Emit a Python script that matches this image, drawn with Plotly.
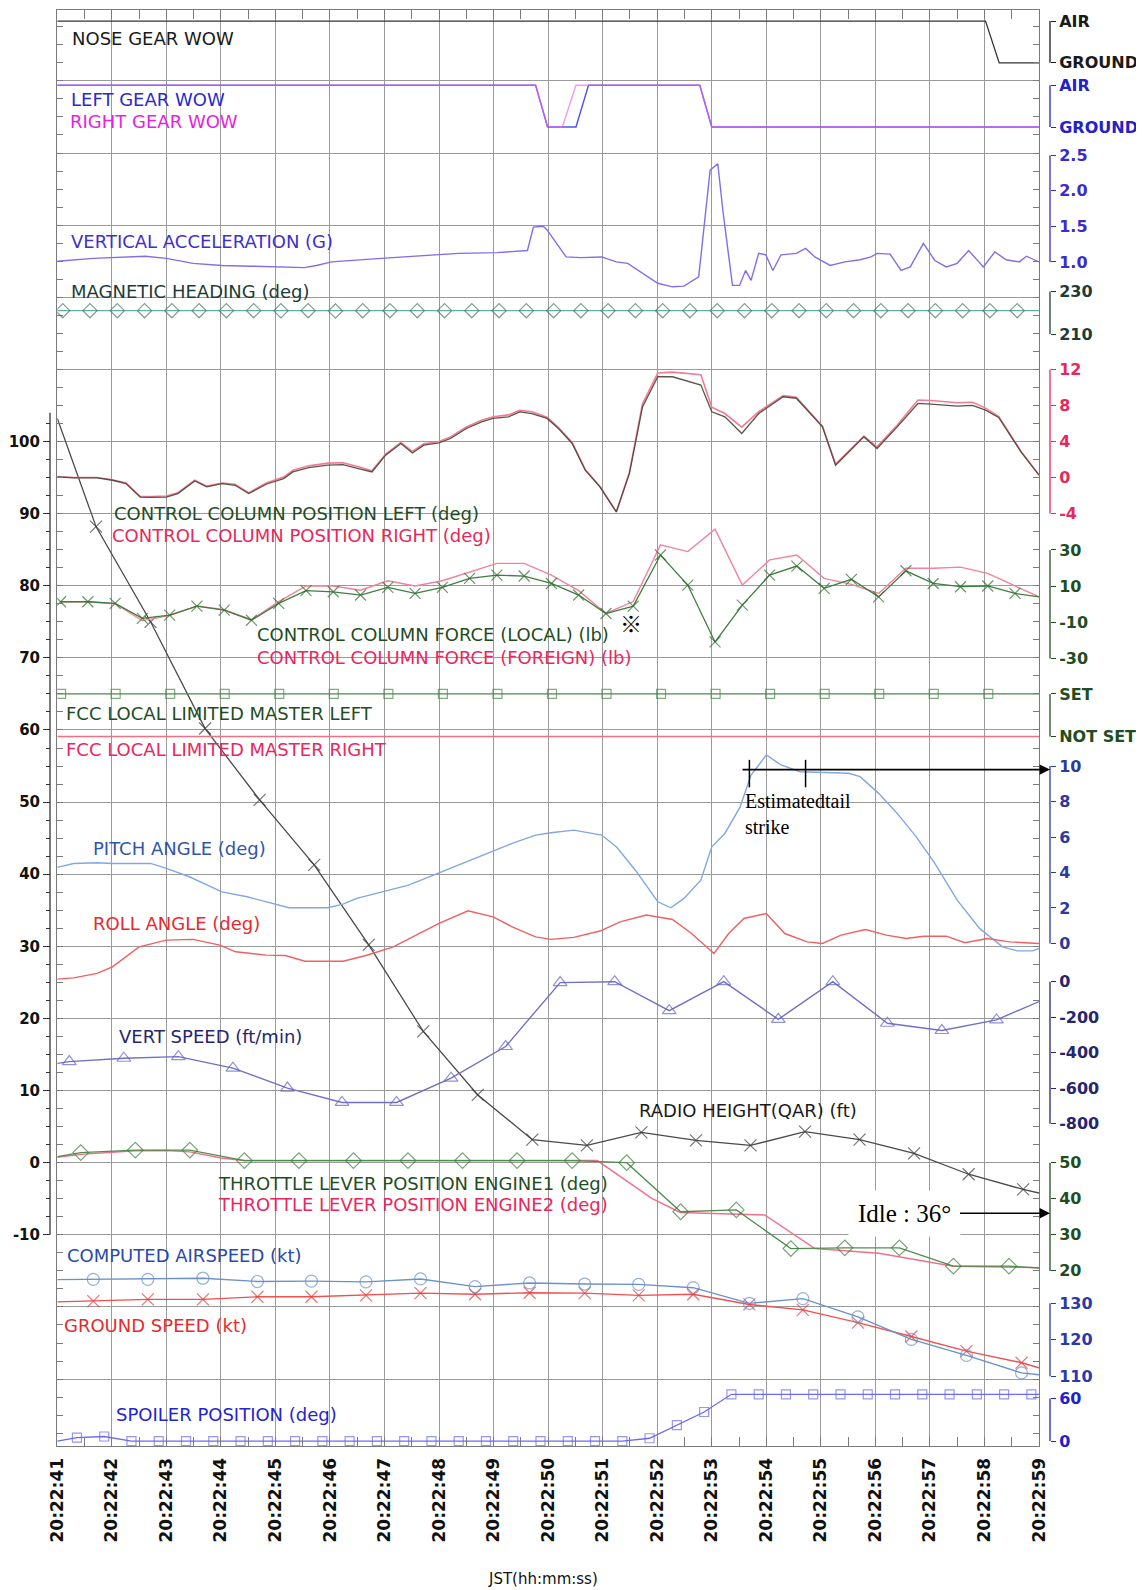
import plotly.graph_objects as go

# ---------------- time axis (seconds after 20:22:41) ----------------
tick_seconds = list(range(0, 19))
tick_labels = ["20:22:41", "20:22:42", "20:22:43", "20:22:44", "20:22:45", "20:22:46",
               "20:22:47", "20:22:48", "20:22:49", "20:22:50", "20:22:51", "20:22:52",
               "20:22:53", "20:22:54", "20:22:55", "20:22:56", "20:22:57", "20:22:58",
               "20:22:59"]
left_ticks = [-10, 0, 10, 20, 30, 40, 50, 60, 70, 80, 90, 100]
left_tick_text = ["-10", "0", "10", "20", "30", "40", "50", "60", "70", "80", "90", "100"]

# ---------------- data ----------------
nose_t = [0, 17.02, 17.27, 18]
nose_v = [1, 1, 0, 0]

lgear_t = [0, 8.77, 8.99, 9.51, 9.74, 11.78, 12.0, 18]
lgear_v = [1, 1, 0, 0, 1, 1, 0, 0]
rgear_t = [0, 8.77, 8.99, 9.26, 9.51, 11.78, 12.0, 18]
rgear_v = [1, 1, 0, 0, 1, 1, 0, 0]

vacc_t = [0, 0.66, 1.61, 2.0, 2.49, 3.02, 3.55, 4.08, 4.53, 4.75, 5.03, 5.94, 6.65, 7.36,
          8.06, 8.62, 8.73, 8.91, 8.98, 9.33, 9.6, 9.98, 10.25, 10.46, 11.01, 11.28, 11.49,
          11.76, 11.97, 12.11, 12.21, 12.38, 12.51, 12.62, 12.72, 12.86, 12.99, 13.12, 13.27,
          13.55, 13.72, 13.89, 14.17, 14.44, 14.72, 14.92, 15.03, 15.27, 15.47, 15.64, 15.88,
          16.09, 16.3, 16.5, 16.71, 16.98, 17.19, 17.4, 17.64, 17.77, 18.0]
vacc_g = [1.01, 1.05, 1.08, 1.05, 0.98, 0.95, 0.94, 0.93, 0.92, 0.95, 1.0, 1.05, 1.08, 1.12,
          1.13, 1.16, 1.49, 1.50, 1.45, 1.07, 1.06, 1.07, 1.0, 0.98, 0.70, 0.65, 0.66,
          0.79, 2.29, 2.38, 1.68, 0.67, 0.67, 0.88, 0.74, 1.12, 1.10, 0.88, 1.10,
          1.12, 1.19, 1.07, 0.95, 1.0, 1.03, 1.07, 1.12, 1.11, 0.88, 0.93, 1.26,
          1.02, 0.93, 0.98, 1.16, 0.93, 1.14, 1.03, 1.0, 1.08, 1.0]

hdg_t = [0, 0.1, 0.6, 1.1, 1.6, 2.1, 2.6, 3.1, 3.6, 4.1, 4.6, 5.1, 5.6, 6.1, 6.6, 7.1, 7.6,
         8.1, 8.6, 9.1, 9.6, 10.1, 10.6, 11.1, 11.6, 12.1, 12.6, 13.1, 13.6, 14.1, 14.6,
         15.1, 15.6, 16.1, 16.6, 17.1, 17.6, 18.0]
hdg_v = [221.0, 221.0, 221.0, 221.0, 221.0, 221.0, 221.0, 221.0, 221.0, 220.9, 221.0, 220.8,
         221.0, 221.0, 221.0, 221.0, 221.0, 221.0, 221.0, 221.0, 221.0, 221.0, 221.0, 221.0,
         221.0, 221.0, 221.0, 221.0, 221.0, 221.0, 221.0, 221.0, 221.0, 221.0, 221.0, 221.0,
         221.0, 221.0]

ccpos_t = [0, 0.30, 0.73, 1.01, 1.26, 1.52, 1.71, 2.0, 2.21, 2.52, 2.74, 3.02, 3.26, 3.51,
           3.83, 4.15, 4.32, 4.61, 4.96, 5.24, 5.52, 5.77, 6.02, 6.30, 6.51, 6.72, 7.0, 7.21,
           7.50, 7.78, 7.99, 8.27, 8.48, 8.70, 8.98, 9.19, 9.44, 9.68, 9.95, 10.25, 10.49,
           10.73, 11.01, 11.28, 11.8, 12.0, 12.24, 12.55, 12.86, 13.31, 13.55, 14.03, 14.27,
           14.79, 15.03, 15.4, 15.78, 16.02, 16.5, 16.78, 17.02, 17.26, 17.67, 18.0]
ccpos_left = [0.07, -0.04, -0.04, -0.3, -0.67, -2.16, -2.2, -2.16, -1.78, -0.38, -1.04, -0.67,
              -0.86, -1.78, -0.74, -0.11, 0.62, 1.1, 1.37, 1.44, 1.0, 0.62, 2.48, 3.78, 2.73,
              3.59, 3.84, 4.33, 5.44, 6.18, 6.56, 6.73, 7.29, 7.1, 6.56, 5.44, 3.78, 0.81,
              -1.04, -3.82, 0.44, 7.84, 11.18, 11.18, 10.26, 7.29, 6.73, 4.89, 7.1, 8.96, 8.8,
              5.62, 1.37, 4.51, 3.22, 5.62, 8.22, 8.15, 7.92, 8.0, 7.48, 6.67, 2.85, 0.26]
ccpos_right = [0.1, 0.0, 0.0, -0.25, -0.6, -2.1, -2.1, -2.05, -1.7, -0.3, -0.95, -0.6,
               -0.75, -1.7, -0.6, 0.05, 0.8, 1.3, 1.6, 1.65, 1.2, 0.75, 2.6, 3.9, 2.9,
               3.75, 4.0, 4.5, 5.6, 6.35, 6.75, 6.95, 7.45, 7.3, 6.7, 5.55, 3.9, 0.9,
               -1.0, -3.8, 0.6, 8.2, 11.6, 11.7, 11.4, 7.8, 7.1, 5.6, 7.3, 9.1, 8.9,
               5.7, 1.5, 4.6, 3.4, 5.8, 8.6, 8.55, 8.3, 8.35, 7.7, 6.8, 2.9, 0.3]

ccf_t = [0.06, 0.56, 1.06, 1.56, 2.06, 2.56, 3.06, 3.56, 4.06, 4.56, 5.06, 5.56, 6.06, 6.56,
         7.06, 7.56, 8.06, 8.56, 9.06, 9.56, 10.06, 10.56, 11.06, 11.56, 12.06, 12.56, 13.06,
         13.56, 14.06, 14.56, 15.06, 15.56, 16.06, 16.56, 17.06, 17.56, 18.0]
ccf_local = [1.4, 1.4, 0.5, -7.8, -6.0, -1.0, -3.2, -8.8, 0.5, 7.5, 6.9, 5.1, 9.3, 6.0, 9.3,
             14.3, 16.1, 15.6, 11.5, 5.1, -5.1, -1.0, 27.2, 10.6, -20.8, -0.5, 16.1, 21.1,
             8.8, 13.8, 4.1, 18.5, 11.5, 9.7, 10.1, 6.0, 4.1]
ccf_foreign = [1.4, 1.4, 0.3, -9.0, -6.3, -1.0, -3.0, -8.5, 1.5, 10.1, 10.1, 7.8, 13.0, 10.1,
               13.0, 18.0, 22.6, 22.6, 16.1, 7.5, -5.1, 1.5, 32.8, 29.1, 41.5, 10.6, 24.5,
               27.2, 14.3, 11.0, 6.0, 19.9, 19.9, 20.5, 17.1, 10.1, 4.1]

fccl_t = [0, 0.07, 1.07, 2.07, 3.07, 4.07, 5.07, 6.07, 7.07, 8.07, 9.07, 10.07, 11.07, 12.07,
          13.07, 14.07, 15.07, 16.07, 17.07, 18.0]
fccl_v = [1, 1, 1, 1, 1, 1, 1, 1, 1, 1, 1, 1, 1, 1, 1, 1, 1, 1, 1, 1]
fccr_t = [0, 18.0]
fccr_v = [0, 0]

pitch_t = [0, 0.30, 0.73, 1.01, 1.71, 2.0, 2.42, 3.02, 3.48, 3.83, 4.25, 4.96, 5.24, 5.49,
           5.95, 6.44, 7.0, 7.5, 7.99, 8.34, 8.77, 9.05, 9.47, 9.98, 10.25, 10.6, 11.01,
           11.25, 11.49, 11.8, 12.0, 12.24, 12.52, 12.72, 13.0, 13.27, 13.62, 14.03, 14.51,
           14.72, 15.06, 15.4, 15.75, 16.09, 16.5, 16.91, 17.33, 17.6, 17.88, 18.0]
pitch_v = [4.29, 4.51, 4.55, 4.51, 4.51, 4.23, 3.76, 2.91, 2.63, 2.35, 2.01, 2.01, 2.22, 2.54,
           2.91, 3.29, 3.98, 4.6, 5.22, 5.64, 6.11, 6.24, 6.39, 6.11, 5.45, 4.13, 2.35,
           2.01, 2.54, 3.57, 5.45, 6.2, 7.7, 9.49, 10.62, 10.06, 9.68, 9.62, 9.59,
           9.4, 8.46, 7.33, 6.01, 4.51, 2.44, 0.85, -0.19, -0.42, -0.42, -0.28]

roll_t = [0, 0.30, 0.73, 1.01, 1.50, 2.0, 2.49, 2.98, 3.27, 3.83, 4.18, 4.54, 5.24, 5.66,
          6.16, 6.65, 7.0, 7.53, 7.99, 8.34, 8.77, 9.05, 9.47, 9.95, 10.32, 10.8, 11.28,
          11.63, 12.04, 12.31, 12.59, 13.0, 13.34, 13.75, 14.03, 14.37, 14.82, 15.2, 15.57,
          15.88, 16.3, 16.64, 17.05, 17.46, 18.0]
roll_v = [-2.01, -1.94, -1.69, -1.32, -0.19, 0.19, 0.23, -0.09, -0.47, -0.66, -0.68, -1.0,
          -1.0, -0.68, -0.19, 0.56, 1.13, 1.84, 1.5, 0.94, 0.37, 0.23, 0.34, 0.7, 1.22,
          1.6, 1.35, 0.56, -0.56, 0.56, 1.41, 1.69, 0.56, 0.09, 0.0, 0.47, 0.79, 0.47,
          0.28, 0.41, 0.41, 0.04, 0.28, 0.09, 0.0]

vs_t = [0, 0.22, 1.22, 2.22, 3.22, 4.22, 5.22, 6.22, 7.22, 8.22, 9.22, 10.22, 11.22, 12.22,
        13.22, 14.22, 15.22, 16.22, 17.22, 18.0]
vs_v = [-460, -450, -431, -422, -487, -599, -680, -680, -543, -365, -5, 0, -163, 0, -212, 0,
        -234, -275, -215, -112]

rh_t = [0, 0.71, 1.71, 2.71, 3.71, 4.71, 5.71, 6.71, 7.71, 8.71, 9.71, 10.71, 11.71, 12.71,
        13.71, 14.71, 15.71, 16.71, 17.71, 18.0]
rh_ft = [103.2, 88.2, 75.0, 60.2, 50.3, 41.3, 30.2, 18.2, 9.4, 3.2, 2.4, 4.2, 3.1, 2.4, 4.3,
         3.2, 1.3, -1.6, -3.7, -4.2]

thr1_t = [0, 0.43, 1.43, 2.43, 3.43, 4.43, 5.43, 6.43, 7.43, 8.43, 9.44, 10.44, 11.43, 12.45,
          13.45, 14.44, 15.44, 16.43, 17.45, 18.0]
thr1_v = [51.7, 52.8, 53.5, 53.5, 50.6, 50.6, 50.6, 50.6, 50.6, 50.6, 50.6, 50.0, 36.4, 36.9,
          26.2, 26.4, 26.4, 21.3, 21.3, 20.8]
thr2_t = [0, 0.43, 1.43, 2.0, 2.43, 3.0, 3.43, 9.9, 10.9, 11.42, 12.97, 13.89, 15.06, 16.43,
          18.0]
thr2_v = [51.5, 52.3, 53.3, 53.4, 53.0, 51.3, 50.6, 50.6, 40.1, 36.2, 35.5, 26.2, 24.9, 21.3,
          20.9]

spd_t = [0, 0.66, 1.66, 2.67, 3.67, 4.66, 5.66, 6.66, 7.66, 8.66, 9.67, 10.66, 11.66, 12.69,
         13.67, 14.68, 15.66, 16.67, 17.68, 18.0]
cas_kt = [136.5, 136.6, 136.6, 136.9, 136.0, 136.1, 135.9, 136.7, 134.6, 135.6, 135.3, 135.2,
          134.3, 130.0, 131.3, 126.3, 120.1, 115.7, 110.9, 110.4]
gs_kt = [130.4, 130.6, 131.1, 131.1, 131.8, 131.8, 132.2, 132.8, 132.5, 132.9, 132.8, 132.2,
         132.5, 129.7, 128.2, 124.7, 120.9, 116.9, 113.7, 112.3]

spl_t = [0, 0.36, 0.86, 1.36, 1.86, 2.36, 2.86, 3.36, 3.86, 4.36, 4.86, 5.36, 5.86, 6.36,
         6.86, 7.36, 7.86, 8.36, 8.86, 9.36, 9.86, 10.36, 10.86, 11.36, 11.86, 12.36, 12.86,
         13.36, 13.86, 14.36, 14.86, 15.36, 15.86, 16.36, 16.86, 17.36, 17.86, 18.0]
spl_v = [0, 5, 6.5, 0, 0, 0, 0, 0, 0, 0, 0, 0, 0, 0, 0, 0, 0, 0, 0, 0, 0, 0, 4, 22.5, 41,
         66, 66, 66, 66, 66, 66, 66, 66, 66, 66, 66, 66, 66]

# ---------------- layout geometry ----------------
W, H = 1144, 1590
ML, MT = 42, 2
PAPER_RIGHT = 1042            # x of the right-hand scales
PLOT_LEFT, PLOT_RIGHT = 49.3, 1031
PLOT_BOTTOM = 1438
MR = W - PAPER_RIGHT
MB = H - PLOT_BOTTOM
PW = W - ML - MR
PH = H - MT - MB
X_DOM = [(PLOT_LEFT - ML) / PW, (PLOT_RIGHT - ML) / PW]
L_MIN, L_MAX = -39.28, 159.83     # base (left) axis range


def span(va, La, vb, Lb):
    k = (vb - va) / (Lb - La)
    return [va + (L_MIN - La) * k, va + (L_MAX - La) * k]


GRID = "#9a9a9a"
BORDER = "#7a7a7a"
FONT = "DejaVu Sans"

fig = go.Figure()


def add(t, v, yaxis, color, width=1.3, symbol=None, size=10, mcolor=None,
        skip_ends=False, skip_last=False, opacity=1.0):
    kw = dict(x=t, y=v, xaxis="x", yaxis=yaxis, mode="lines",
              line=dict(color=color, width=width), opacity=opacity,
              hoverinfo="skip", showlegend=False)
    if symbol:
        sizes = [size] * len(t)
        if skip_ends:
            sizes[0] = 0
            sizes[-1] = 0
        if skip_last:
            sizes[-1] = 0
        mc = mcolor or color
        kw["mode"] = "lines+markers"
        kw["marker"] = dict(symbol=symbol, size=sizes, color=mc,
                            line=dict(color=mc, width=1.2))
    fig.add_trace(go.Scatter(**kw))


# right-hand axes: id, colour, tick values, tick text, mapping (value,L,value,L)
RIGHT = [
    ("y3", "#1a1a1a", [1, 0], ["AIR", "GROUND"], (1, 158.3, 0, 152.5)),
    ("y4", "#2222c8", [1, 0], ["AIR", "GROUND"], (1, 149.4, 0, 143.6)),
    ("y5", "#3a2ad0", [2.5, 2.0, 1.5, 1.0], ["2.5", "2.0", "1.5", "1.0"], (2.5, 139.7, 1.0, 124.9)),
    ("y6", "#1e3d36", [230, 210], ["230", "210"], (230, 120.8, 210, 114.9)),
    ("y7", "#e8285c", [12, 8, 4, 0, -4], ["12", "8", "4", "0", "-4"], (12, 110.0, -4, 90.0)),
    ("y8", "#1f4d1f", [30, 10, -10, -30], ["30", "10", "-10", "-30"], (30, 84.96, -30, 69.9)),
    ("y9", "#1f4d1f", [1, 0], ["SET", "NOT SET"], (1, 65.0, 0, 59.1)),
    ("y10", "#2a3aa0", [10, 8, 6, 4, 2, 0], ["10", "8", "6", "4", "2", "0"], (10, 55.0, 0, 30.4)),
    ("y11", "#26266e", [0, -200, -400, -600, -800], ["0", "-200", "-400", "-600", "-800"], (0, 25.1, -800, 5.4)),
    ("y12", "#1f4d1f", [50, 40, 30, 20], ["50", "40", "30", "20"], (50, 0.0, 20, -15.0)),
    ("y13", "#2a3aa8", [130, 120, 110], ["130", "120", "110"], (130, -19.5, 110, -29.6)),
    ("y14", "#2020d0", [60, 0], ["60", "0"], (60, -32.7, 0, -38.6)),
]

# ---------------- traces ----------------
add(nose_t, nose_v, "y3", "#333333", 1.3)
add(lgear_t, lgear_v, "y4", "#5050f0", 1.4)
add(rgear_t, rgear_v, "y4", "#f060f0", 1.4, opacity=0.65)
add(vacc_t, vacc_g, "y5", "#7f6fea", 1.4)
add(hdg_t, hdg_v, "y6", "#5fb0a2", 1.4, symbol="diamond-open", size=11, mcolor="#4f7262",
    skip_ends=True)
add(ccpos_t, ccpos_right, "y7", "#f27b95", 1.6)
add(ccpos_t, ccpos_left, "y7", "#4a4436", 1.3, opacity=0.9)
add(ccf_t, ccf_foreign, "y8", "#f2839b", 1.4)
add(ccf_t, ccf_local, "y8", "#3e7e3e", 1.3, symbol="x-thin", size=11, mcolor="#2f6a2f",
    skip_last=True)
add(fccr_t, fccr_v, "y9", "#f27082", 1.4)
add(fccl_t, fccl_v, "y9", "#4a8a4a", 1.3, symbol="square-open", size=9, skip_ends=True)
add(pitch_t, pitch_v, "y10", "#80a8e0", 1.4)
add(roll_t, roll_v, "y10", "#f06060", 1.4)
add(vs_t, vs_v, "y11", "#7070c8", 1.4, symbol="triangle-up-open", size=12, mcolor="#6262c4",
    skip_ends=True)
add(thr2_t, thr2_v, "y12", "#f0708a", 1.4)
add(thr1_t, thr1_v, "y12", "#4e8e4e", 1.3, symbol="diamond-open", size=12, mcolor="#3f7a3f",
    skip_ends=True)
add(spd_t, gs_kt, "y13", "#f05050", 1.4, symbol="x-thin", size=12, mcolor="#e83838",
    skip_ends=True)
add(spd_t, cas_kt, "y13", "#6a92c8", 1.4, symbol="circle-open", size=12, mcolor="#6a8ec8",
    skip_ends=True)
add(spl_t, spl_v, "y14", "#6a6af0", 1.3, symbol="square-open", size=9, skip_ends=True)
add(rh_t, rh_ft, "y2", "#4a4a4a", 1.3, symbol="x-thin", size=12, mcolor="#3a3a3a",
    skip_ends=True)

# ---------------- axes ----------------
layout = dict(
    width=W, height=H,
    margin=dict(l=ML, r=MR, t=MT, b=MB),
    paper_bgcolor="white", plot_bgcolor="white",
    showlegend=False,
    xaxis=dict(domain=X_DOM, range=[0, 18], anchor="y",
               tickmode="array", tickvals=tick_seconds, ticktext=tick_labels,
               tickangle=-90, ticks="inside", ticklen=9, tickcolor=BORDER,
               tickfont=dict(family=FONT, size=17, color="#111111", weight="bold"),
               ticklabelstandoff=4,
               showgrid=True, gridcolor=GRID, gridwidth=1.2,
               showline=True, linecolor=BORDER, linewidth=1.3, mirror="ticks",
               zeroline=False,
               minor=dict(tickmode="array", tickvals=[s + 0.5 for s in tick_seconds[:-1]],
                          ticks="inside", ticklen=9, tickcolor=BORDER, showgrid=False)),
    yaxis=dict(range=[L_MIN, L_MAX], anchor="x", tick0=0, dtick=10,
               showgrid=True, gridcolor=GRID, gridwidth=1.2,
               ticks="inside", ticklen=6, tickcolor=BORDER, showticklabels=False,
               showline=True, linecolor=BORDER, linewidth=1.3, mirror="ticks",
               zeroline=False,
               minor=dict(tick0=0, dtick=2.5, ticks="inside", ticklen=6,
                          tickcolor=BORDER, showgrid=False)),
    yaxis2=dict(overlaying="y", anchor="free", position=0, side="left",
                range=[L_MIN, L_MAX], tickmode="array",
                tickvals=left_ticks, ticktext=left_tick_text,
                ticks="outside", ticklen=7, tickcolor="#333333", tickwidth=1.2,
                tickfont=dict(family=FONT, size=15, color="#111111", weight="bold"),
                showgrid=False, zeroline=False, showline=False,
                minor=dict(tickmode="array",
                           tickvals=[v / 2.0 for v in range(-15, 206, 5) if v % 20 != 0],
                           ticks="outside", ticklen=4, tickcolor="#333333")),
)

shapes = []
for yid, col, tv, tt, m in RIGHT:
    layout["yaxis" + yid[1:]] = dict(
        overlaying="y", anchor="free", position=1.0, side="right",
        range=span(*m), tickmode="array", tickvals=tv, ticktext=tt,
        ticks="outside", ticklen=5, tickwidth=1.3, tickcolor=col,
        tickfont=dict(family=FONT, size=16, color=col, weight="bold"),
        showgrid=False, zeroline=False, showline=False)
    shapes.append(dict(type="line", xref="paper", yref=yid, x0=1.0, x1=1.0,
                       y0=min(tv), y1=max(tv), line=dict(color=col, width=1.3)))

# left spine of the radio-height scale
shapes.append(dict(type="line", xref="paper", yref="y2", x0=0, x1=0, y0=-10, y1=104,
                   line=dict(color="#333333", width=1.3)))
# estimated tail-strike bracket ticks (pitch scale)
for tt_ in (12.69, 13.72):
    shapes.append(dict(type="line", xref="x", yref="y10", x0=tt_, x1=tt_, y0=8.8, y1=10.35,
                       line=dict(color="black", width=1.5)))

layout["shapes"] = shapes

# ---------------- labels ----------------
LABELS = [
    ("NOSE GEAR WOW", 0.24, 155.9, "#1a1a1a"),
    ("LEFT GEAR WOW", 0.22, 147.4, "#2a2ad0"),
    ("RIGHT GEAR WOW", 0.20, 144.4, "#e81ee0"),
    ("VERTICAL ACCELERATION (G)", 0.22, 127.7, "#3f2fd0"),
    ("MAGNETIC HEADING (deg)", 0.22, 120.8, "#1e3d36"),
    ("CONTROL COLUMN POSITION LEFT (deg)", 1.01, 90.0, "#1f4d1f"),
    ("CONTROL COLUMN POSITION RIGHT (deg)", 0.97, 87.0, "#e8285c"),
    ("CONTROL COLUMN FORCE (LOCAL) (lb)", 3.63, 73.2, "#1f4d1f"),
    ("CONTROL COLUMN FORCE (FOREIGN) (lb)", 3.63, 70.0, "#e8285c"),
    ("FCC LOCAL LIMITED MASTER LEFT", 0.13, 62.3, "#1f4d1f"),
    ("FCC LOCAL LIMITED MASTER RIGHT", 0.13, 57.3, "#e8285c"),
    ("PITCH ANGLE (deg)", 0.62, 43.6, "#2f55aa"),
    ("ROLL ANGLE (deg)", 0.62, 33.2, "#e82a2a"),
    ("VERT SPEED (ft/min)", 1.09, 17.5, "#26266e"),
    ("RADIO HEIGHT(QAR) (ft)", 10.63, 7.2, "#1a1a1a"),
    ("THROTTLE LEVER POSITION ENGINE1 (deg)", 2.91, -2.85, "#1f4d1f"),
    ("THROTTLE LEVER POSITION ENGINE2 (deg)", 2.91, -5.85, "#e8285c"),
    ("COMPUTED AIRSPEED (kt)", 0.15, -12.8, "#2a4aa8"),
    ("GROUND SPEED (kt)", 0.09, -22.6, "#e82a2a"),
    ("SPOILER POSITION (deg)", 1.04, -34.9, "#2424d0"),
]
ann = []
for txt, tx, ly, col in LABELS:
    ann.append(dict(text=txt, x=tx, y=ly, xref="x", yref="y", xanchor="left",
                    yanchor="middle", showarrow=False,
                    font=dict(family=FONT, size=18, color=col)))

# x-axis title
ann.append(dict(text="JST(hh:mm:ss)", x=(535 - ML) / PW, y=-(1571 - PLOT_BOTTOM) / PH,
                xref="paper", yref="paper", showarrow=False, xanchor="center",
                yanchor="middle", font=dict(family=FONT, size=15, color="#111111")))
# reference mark near control column force
ann.append(dict(text="※", x=10.51, y=-9.7, xref="x", yref="y8", showarrow=False,
                font=dict(family="Noto Sans CJK JP", size=22, color="black")))
# estimated tail strike
ann.append(dict(text="", x=1.0, y=9.8, xref="paper", yref="y10", ax=-309, ay=0,
                showarrow=True, arrowhead=2, arrowsize=1.3, arrowwidth=1.6,
                arrowcolor="black"))
ann.append(dict(text="Estimatedtail<br>strike", x=12.58, y=8.75, xref="x", yref="y10",
                xanchor="left", yanchor="top", align="left", showarrow=False,
                font=dict(family="Liberation Serif", size=20, color="black")))
# idle throttle arrow
ann.append(dict(text="Idle : 36°", x=1.0, y=36, xref="paper", yref="y12", ax=-146, ay=0,
                showarrow=True, arrowhead=2, arrowsize=1.3, arrowwidth=1.6,
                arrowcolor="black", bgcolor="white", borderpad=9,
                font=dict(family="Liberation Serif", size=25, color="black")))
layout["annotations"] = ann

fig.update_layout(**layout)
fig.write_html("out.html")
